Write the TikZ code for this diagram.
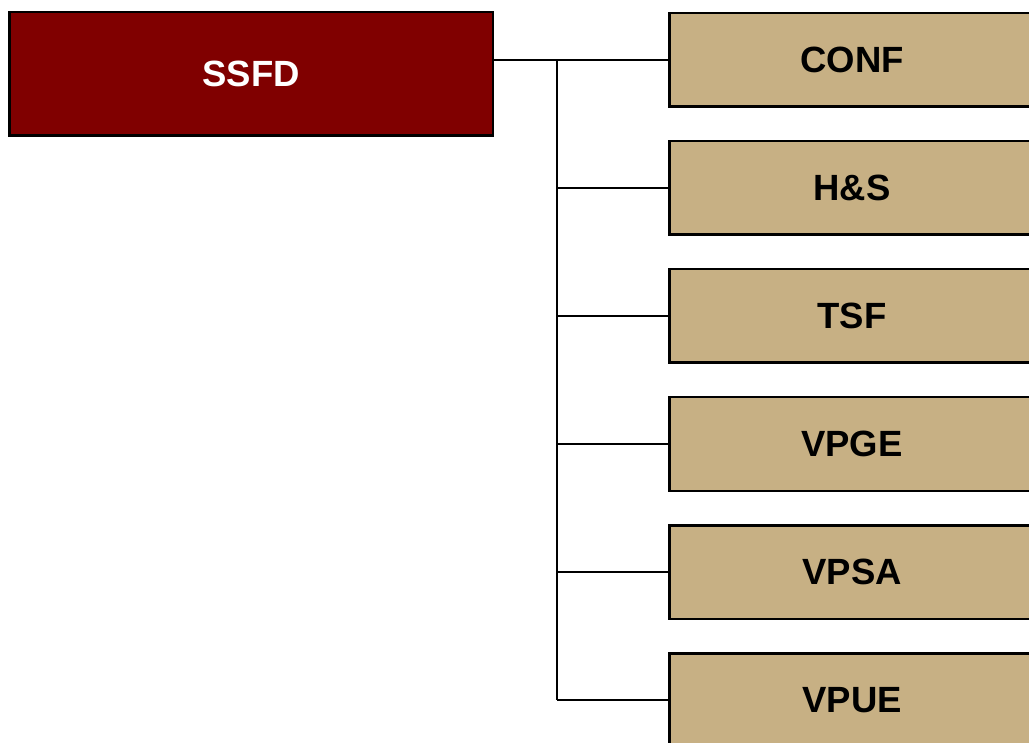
\documentclass[tikz,border=0pt]{standalone}
\usepackage{fontspec}
\setmainfont{Liberation Sans}
\definecolor{headred}{RGB}{128,0,0}
\definecolor{unittan}{RGB}{199,176,132}
\begin{document}
\begin{tikzpicture}[x=1pt,y=-1pt,
  headbox/.style={draw=black, line width=2.5pt, fill=headred, text=white,
    minimum width=483.5pt, minimum height=123.5pt, inner sep=0pt,
    font=\fontsize{36.5}{40}\selectfont\bfseries},
  unitbox/.style={draw=black, line width=2.5pt, fill=unittan, text=black,
    minimum width=365.5pt, minimum height=93.5pt, inner sep=0pt,
    font=\fontsize{36.5}{40}\selectfont\bfseries},
  link/.style={draw=black, line width=2pt}]
  \useasboundingbox (0,0) rectangle (1029,743);
  \fill[white] (0,0) rectangle (1029,743);

  % top of the chart
  \node[headbox] (ssfd) at (251,74) {SSFD};

  % units
  \node[unitbox] (conf) at (852,60)  {CONF};
  \node[unitbox] (hs)   at (852,188) {H\&S};
  \node[unitbox] (tsf)  at (852,316) {TSF};
  \node[unitbox] (vpge) at (852,444) {VPGE};
  \node[unitbox] (vpsa) at (852,572) {VPSA};
  \node[unitbox] (vpue) at (852,700) {VPUE};

  % connectors
  \coordinate (spine) at (557,0);
  \draw[link] (ssfd.east |- conf.west) -- (conf.west);
  \draw[link] (spine |- conf.west) -- (spine |- vpue.west);
  \foreach \b in {hs,tsf,vpge,vpsa,vpue}
    \draw[link] (spine |- \b.west) -- (\b.west);
\end{tikzpicture}
\end{document}
